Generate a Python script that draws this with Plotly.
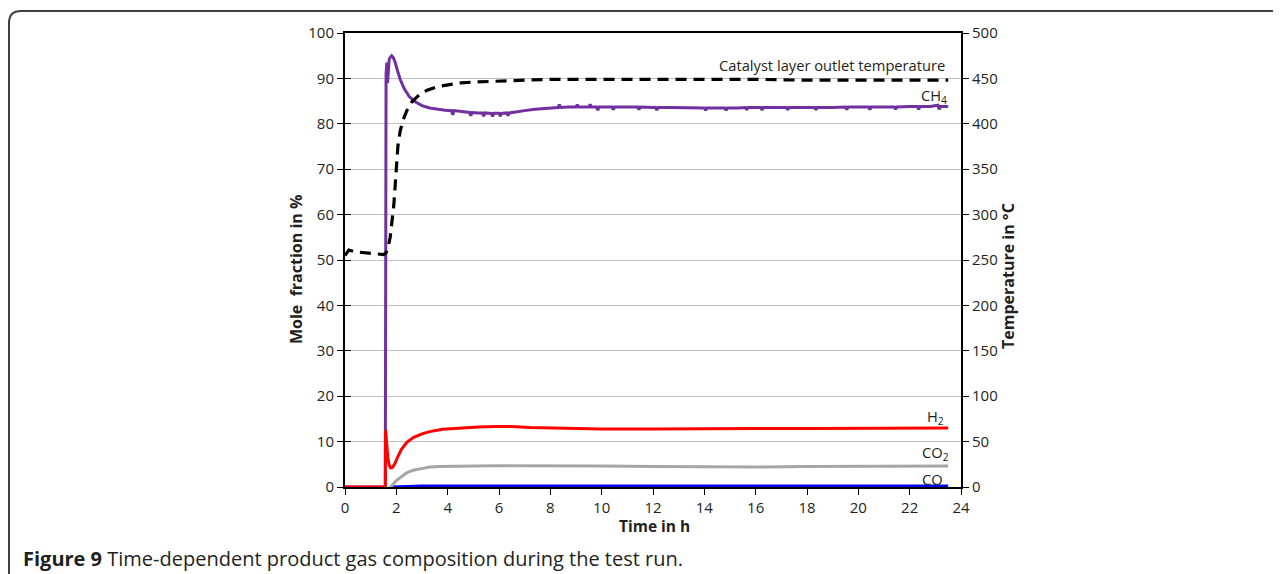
import plotly.graph_objects as go

# Time-dependent product gas composition (mole fraction in %, time in h)
ch4_t = [0, 1.57, 1.60, 1.63, 1.66, 1.69, 1.72, 1.76, 1.82, 1.88, 1.95, 2.05, 2.15, 2.3, 2.5,
         2.75, 3.0, 3.3, 3.6, 3.9, 4.15, 4.2, 4.25, 4.6, 4.85, 4.9, 4.95, 5.2, 5.35, 5.4, 5.45,
         5.7, 5.75, 5.8, 6.0, 6.05, 6.1, 6.3, 6.35, 6.4, 6.6, 7.0, 7.4, 7.8, 8.1, 8.3, 8.35, 8.4,
         8.7, 9.0, 9.05, 9.1, 9.4, 9.5, 9.55, 9.6, 9.8, 9.85, 9.9, 10.2, 10.4, 10.45, 10.5, 11.0,
         11.4, 11.45, 11.5, 12.0, 12.1, 12.15, 12.2, 12.6, 13.0, 13.5, 14.0, 14.05, 14.1, 14.5,
         14.8, 14.85, 14.9, 15.3, 15.6, 15.65, 15.7, 16.2, 16.25, 16.3, 16.8, 17.2, 17.25, 17.3,
         17.8, 18.3, 18.35, 18.4, 19.0, 19.5, 19.55, 19.6, 20.0, 20.4, 20.45, 20.5, 21.0, 21.4,
         21.45, 21.5, 22.0, 22.3, 22.35, 22.4, 22.8, 23.1, 23.15, 23.2, 23.5]
ch4_v = [0, 0, 91, 93.5, 89, 93.8, 94.2, 94.6, 95.0, 94.6, 93.6, 91.6, 89.8, 87.8, 86.0,
         84.8, 84.0, 83.5, 83.2, 83.0, 82.9, 82.0, 82.9, 82.7, 82.5, 81.8, 82.5, 82.4, 82.4, 81.7, 82.4,
         82.3, 81.6, 82.3, 82.3, 81.7, 82.3, 82.4, 81.8, 82.4, 82.6, 82.9, 83.2, 83.4, 83.5, 83.6, 84.2, 83.6,
         83.7, 83.7, 84.2, 83.7, 83.7, 83.7, 84.3, 83.7, 83.7, 83.0, 83.7, 83.7, 83.7, 83.1, 83.7, 83.7,
         83.7, 83.1, 83.7, 83.6, 83.6, 83.0, 83.6, 83.6, 83.6, 83.6, 83.5, 83.0, 83.5, 83.5,
         83.5, 83.0, 83.5, 83.5, 83.6, 83.1, 83.6, 83.6, 83.0, 83.6, 83.6, 83.6, 83.1, 83.6,
         83.6, 83.6, 83.1, 83.6, 83.6, 83.7, 83.1, 83.7, 83.7, 83.7, 83.1, 83.7, 83.7, 83.7,
         83.2, 83.7, 83.8, 83.8, 83.2, 83.8, 83.8, 84.1, 83.2, 83.8, 83.8]

h2_t = [0, 1.57, 1.58, 1.62, 1.67, 1.72, 1.78, 1.85, 1.95, 2.05, 2.2, 2.4, 2.66, 3.0, 3.3,
        3.8, 4.6, 5.2, 5.9, 6.5, 7.2, 8, 9, 10, 12, 14, 16, 18, 20, 22, 23.5]
h2_v = [0, 0, 12.6, 9.5, 6.5, 4.8, 4.2, 4.3, 5.2, 6.6, 8.3, 9.8, 10.9, 11.7, 12.2,
        12.7, 13.0, 13.2, 13.3, 13.3, 13.1, 13.0, 12.9, 12.8, 12.8, 12.9, 12.9, 12.9, 12.9, 12.9, 13.0]

co2_t = [1.75, 1.85, 2.0, 2.2, 2.4, 2.66, 3.0, 3.3, 3.7, 4.2, 5, 6, 8, 10, 12, 14, 16, 18, 20, 22, 23.5]
co2_v = [0, 0.4, 1.4, 2.3, 3.1, 3.7, 4.1, 4.4, 4.5, 4.6, 4.6, 4.7, 4.7, 4.6, 4.5, 4.4, 4.4, 4.5, 4.5, 4.6, 4.6]

co_t = [1.75, 2.5, 3, 5, 10, 15, 20, 23.5]
co_v = [0, 0.15, 0.2, 0.2, 0.2, 0.2, 0.2, 0.2]

# Catalyst layer outlet temperature (°C)
temp_t = [0, 0.15, 0.4, 0.8, 1.2, 1.5, 1.6, 1.68, 1.76, 1.83, 1.9, 1.95, 2.0, 2.06, 2.15, 2.26,
          2.4, 2.6, 2.9, 3.2, 3.6, 4.0, 4.5, 5.0, 6.0, 7.0, 8, 10, 12, 14, 16, 18, 20, 22, 23.5]
temp_v = [255, 261, 259, 258, 257, 256, 258, 264, 275, 290, 310, 330, 350, 375, 392, 404,
          414, 424, 432, 437, 441, 443, 445, 446, 447, 448, 449, 449, 449, 449, 449, 448, 448, 448, 448]

x_ticks = list(range(0, 25, 2))
y_ticks = list(range(0, 101, 10))
y2_ticks = list(range(0, 501, 50))

# page size and plot area in page pixels; the page body adds an 8px margin
W, H = 1281, 574
OFF = 8
L, R, T, B = 345, 961, 33, 487


def px_x(p):
    return (p - L) / (R - L)


def px_y(p):
    return (B - p) / (B - T)


font = "Open Sans, Noto Sans, sans-serif"
fig = go.Figure()

lw = 3
fig.add_trace(go.Scatter(x=co_t, y=co_v, mode="lines", line=dict(color="#0000ff", width=lw), name="CO"))
fig.add_trace(go.Scatter(x=co2_t, y=co2_v, mode="lines", line=dict(color="#a6a6a6", width=lw), name="CO2"))
fig.add_trace(go.Scatter(x=ch4_t, y=ch4_v, mode="lines", line=dict(color="#7030a0", width=lw), name="CH4"))
fig.add_trace(go.Scatter(x=h2_t, y=h2_v, mode="lines", line=dict(color="#ff0000", width=lw), name="H2"))
fig.add_trace(go.Scatter(x=temp_t, y=temp_v, mode="lines", yaxis="y2",
                         line=dict(color="black", width=3.2, dash="11px,7px"), name="Temperature"))
# invisible trace so the inner-tick overlay axis is drawn
fig.add_trace(go.Scatter(x=[0], y=[0], yaxis="y3", mode="markers", marker=dict(opacity=0),
                         hoverinfo="skip"))

tickfont = dict(family=font, size=15, color="#231f20")
fw, fh = W - OFF, H - OFF
fig.update_layout(
    width=fw, height=fh, autosize=False,
    margin=dict(l=L - OFF, r=fw - (R - OFF), t=T - OFF, b=fh - (B - OFF)),
    paper_bgcolor="white", plot_bgcolor="white",
    showlegend=False,
    xaxis=dict(range=[0, 24], tickvals=x_ticks, showgrid=False, zeroline=False,
               showline=True, linecolor="black", linewidth=2, mirror=True,
               ticks="outside", ticklen=6, tickcolor="black", tickfont=tickfont),
    yaxis=dict(range=[0, 100], tickvals=y_ticks, showgrid=True, gridcolor="#c0c0c0", gridwidth=1,
               zeroline=False, showline=True, linecolor="black", linewidth=2,
               ticks="outside", ticklen=6, tickcolor="black", tickfont=tickfont),
    yaxis2=dict(range=[0, 500], tickvals=y2_ticks, overlaying="y", side="right", showgrid=False,
                zeroline=False, showline=True, linecolor="black", linewidth=2,
                ticks="outside", ticklen=6, tickcolor="black", tickfont=tickfont),
    yaxis3=dict(range=[0, 100], tickvals=y_ticks, overlaying="y", side="left", showgrid=False,
                zeroline=False, showline=False, showticklabels=False,
                ticks="inside", ticklen=6, tickcolor="black"),
)

lab = dict(family=font, size=14.7, color="#231f20")
bold = dict(family=font, size=16, color="#231f20")
ann = [
    dict(text="Catalyst layer outlet temperature", x=px_x(947), y=px_y(65), xanchor="right", font=lab),
    dict(text="CH<sub>4</sub>", x=px_x(949), y=px_y(96), xanchor="right", font=lab),
    dict(text="H<sub>2</sub>", x=px_x(946), y=px_y(417), xanchor="right", font=lab),
    dict(text="CO<sub>2</sub>", x=px_x(951), y=px_y(453), xanchor="right", font=lab),
    dict(text="CO", x=px_x(945), y=px_y(479), xanchor="right", font=lab),
    dict(text="<b>Time in h</b>", x=px_x(654), y=px_y(526), font=dict(family=font, size=15.5, color="#231f20")),
    dict(text="<b>Mole  fraction in %</b>", x=px_x(283), y=px_y(270), textangle=-90, font=bold),
    dict(text="<b>Temperature in °C</b>", x=px_x(1021), y=px_y(276), textangle=-90, font=bold),
    dict(text="<b>Figure 9</b> Time-dependent product gas composition during the test run.",
         x=px_x(21), y=px_y(558), xanchor="left", font=dict(family=font, size=20, color="#231f20")),
]
for a in ann:
    a.update(xref="paper", yref="paper", showarrow=False, yanchor="middle")
    fig.add_annotation(**a)

# rounded figure frame
x0, y0, r = 9, 11, 12
path = (f"M {px_x(x0)},{px_y(H + 10)} L {px_x(x0)},{px_y(y0 + r)} "
        f"Q {px_x(x0)},{px_y(y0)} {px_x(x0 + r)},{px_y(y0)} L {px_x(W + 10)},{px_y(y0)}")
fig.add_shape(type="path", path=path, xref="paper", yref="paper",
              line=dict(color="#404040", width=2))

fig.write_html("out.html")
